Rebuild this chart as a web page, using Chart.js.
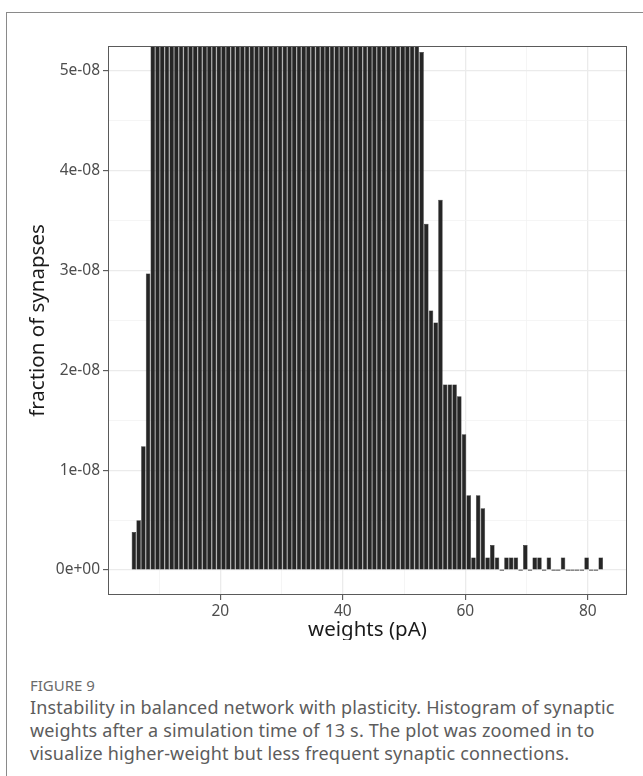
<!DOCTYPE html>
<html>
<head>
<meta charset="utf-8">
<script src="https://cdn.jsdelivr.net/npm/chart.js@4/dist/chart.umd.min.js"></script>
<style>
  html, body { margin: 0; padding: 0; background: #fff; }
  body { width: 643px; height: 776px; position: relative; overflow: hidden; font-family: "Noto Sans", sans-serif; }
  #frame { position: absolute; left: 6px; top: 12px; width: 700px; height: 800px;
           border-left: 1.5px solid #8a8a8a; border-top: 1.5px solid #8a8a8a; }
  #chartBox { position: absolute; left: 0; top: 0; width: 643px; height: 640px; }
  #caption { position: absolute; left: 30px; top: 674px; width: 610px; color: #5c5c5c; white-space: nowrap; }
  #caption .label { font-size: 15px; color: #6b6b6b; line-height: 22px; }
  #caption .text { font-size: 18px; line-height: 23px; letter-spacing: 0.15px; }
</style>
</head>
<body>
<div id="frame"></div>
<div id="chartBox"><canvas id="histChart" width="643" height="640"></canvas></div>
<div id="caption">
  <div class="label">FIGURE 9</div>
  <div class="text">Instability in balanced network with plasticity. Histogram of synaptic<br>weights after a simulation time of 13 s. The plot was zoomed in to<br>visualize higher-weight but less frequent synaptic connections.</div>
</div>
<script>
// === HISTOGRAM DATA ===
// 100 bins of synaptic weight (pA), first bin starts at 5.5 pA
const binStart = 5.5;
const binWidth = 0.77;

// fraction of synapses per bin (bins 4..60 run far above the zoomed window)
const fraction = [
  0.38e-8, 0.50e-8, 1.24e-8, 2.97e-8, 6.1e-8, 8.4e-8, 11.2e-8, 14.0e-8, 16.9e-8, 19.5e-8,
  21.8e-8, 23.6e-8, 25.1e-8, 26.0e-8, 26.7e-8, 27.0e-8, 26.9e-8, 26.5e-8, 25.8e-8, 25.1e-8,
  24.3e-8, 23.4e-8, 22.6e-8, 21.7e-8, 20.9e-8, 20.0e-8, 19.2e-8, 18.3e-8, 17.5e-8, 16.7e-8,
  15.9e-8, 15.0e-8, 14.2e-8, 13.5e-8, 12.7e-8, 12.0e-8, 11.3e-8, 10.6e-8, 10.0e-8, 9.4e-8,
  8.9e-8, 8.4e-8, 8.0e-8, 7.6e-8, 7.3e-8, 7.0e-8, 6.8e-8, 6.6e-8, 6.4e-8, 6.3e-8,
  6.1e-8, 6.0e-8, 5.9e-8, 5.8e-8, 5.7e-8, 5.65e-8, 5.6e-8, 5.55e-8, 5.5e-8, 5.45e-8,
  5.4e-8, 5.19e-8, 3.47e-8, 2.60e-8, 2.48e-8, 3.71e-8, 1.86e-8, 1.86e-8, 1.86e-8, 1.74e-8,
  1.36e-8, 0.75e-8, 0.125e-8, 0.75e-8, 0.62e-8, 0.125e-8, 0.25e-8, 0.125e-8, 0, 0.125e-8,
  0.125e-8, 0.125e-8, 0, 0.25e-8, 0, 0.125e-8, 0.125e-8, 0, 0.125e-8, 0,
  0, 0.125e-8, 0, 0, 0, 0, 0.125e-8, 0, 0, 0.125e-8
];

const binCenters = fraction.map((_, i) => binStart + binWidth * (i + 0.5));

// axis ticks: majors get labels, the half steps are minor grid lines
const xTicks = [10, 20, 30, 40, 50, 60, 70, 80];
const xTickLabels = { 20: '20', 40: '40', 60: '60', 80: '80' };
const yTicks = [0, 0.5e-8, 1e-8, 1.5e-8, 2e-8, 2.5e-8, 3e-8, 3.5e-8, 4e-8, 4.5e-8, 5e-8];
const yTickLabels = ['0e+00', '', '1e-08', '', '2e-08', '', '3e-08', '', '4e-08', '', '5e-08'];

const tickFont = { family: 'Noto Sans', size: 15.5 };
const titleFont = { family: 'Noto Sans', size: 20.5, lineHeight: 1 };

// grey panel outline drawn on top of the bars
const panelBorder = {
  id: 'panelBorder',
  afterDraw(chart) {
    const { ctx, chartArea: a } = chart;
    ctx.save();
    ctx.strokeStyle = '#5a5a5a';
    ctx.lineWidth = 1;
    ctx.strokeRect(a.left + 0.5, a.top + 0.5, a.right - a.left - 1, a.bottom - a.top - 1);
    ctx.restore();
  }
};

const isMinorX = c => !c.tick || !(c.tick.value in xTickLabels);
const isMinorY = c => !c.tick || yTickLabels[c.index] === '';

const ctx = document.getElementById('histChart').getContext('2d');
const chart = new Chart(ctx, {
  type: 'bar',
  data: {
    datasets: [{
      data: binCenters.map((x, i) => ({ x: x, y: fraction[i] })),
      backgroundColor: '#262626',
      borderColor: '#111111',
      borderWidth: 0.5,
      borderSkipped: false,
      barPercentage: 0.96,
      categoryPercentage: 1,
      minBarLength: 1.2
    }]
  },
  options: {
    responsive: false,
    animation: false,
    layout: { padding: { top: 46, right: 16, left: 28, bottom: 0 } },
    plugins: { legend: { display: false }, tooltip: { enabled: false } },
    scales: {
      x: {
        type: 'linear',
        min: 1.65,
        max: 86.4,
        offset: false,
        afterBuildTicks: s => { s.ticks = xTicks.map(v => ({ value: v })); },
        afterFit: s => { s.height = 45; },
        border: { display: false },
        grid: {
          offset: false,
          color: c => isMinorX(c) ? '#f2f2f2' : '#ebebeb',
          lineWidth: c => isMinorX(c) ? 0.8 : 1.3,
          tickColor: c => isMinorX(c) ? 'rgba(0,0,0,0)' : '#444',
          tickLength: 5,
          tickWidth: 1
        },
        ticks: {
          autoSkip: false,
          maxRotation: 0,
          padding: 2,
          color: '#4d4d4d',
          font: tickFont,
          callback: v => xTickLabels[v] || ''
        },
        title: { display: true, text: 'weights (pA)', color: '#1a1a1a', font: titleFont, padding: 0 }
      },
      y: {
        min: -0.25e-8,
        max: 5.25e-8,
        afterBuildTicks: s => { s.ticks = yTicks.map(v => ({ value: v })); },
        afterFit: s => { s.width = 80; },
        border: { display: false },
        grid: {
          color: c => isMinorY(c) ? '#f2f2f2' : '#ebebeb',
          lineWidth: c => isMinorY(c) ? 0.8 : 1.3,
          tickColor: c => isMinorY(c) ? 'rgba(0,0,0,0)' : '#444',
          tickLength: 5,
          tickWidth: 1
        },
        ticks: {
          autoSkip: false,
          padding: 3,
          color: '#4d4d4d',
          font: tickFont,
          callback: (v, i) => yTickLabels[i]
        },
        title: { display: true, text: 'fraction of synapses', color: '#1a1a1a', font: titleFont, padding: 0 }
      }
    }
  },
  plugins: [panelBorder]
});
</script>
</body>
</html>
